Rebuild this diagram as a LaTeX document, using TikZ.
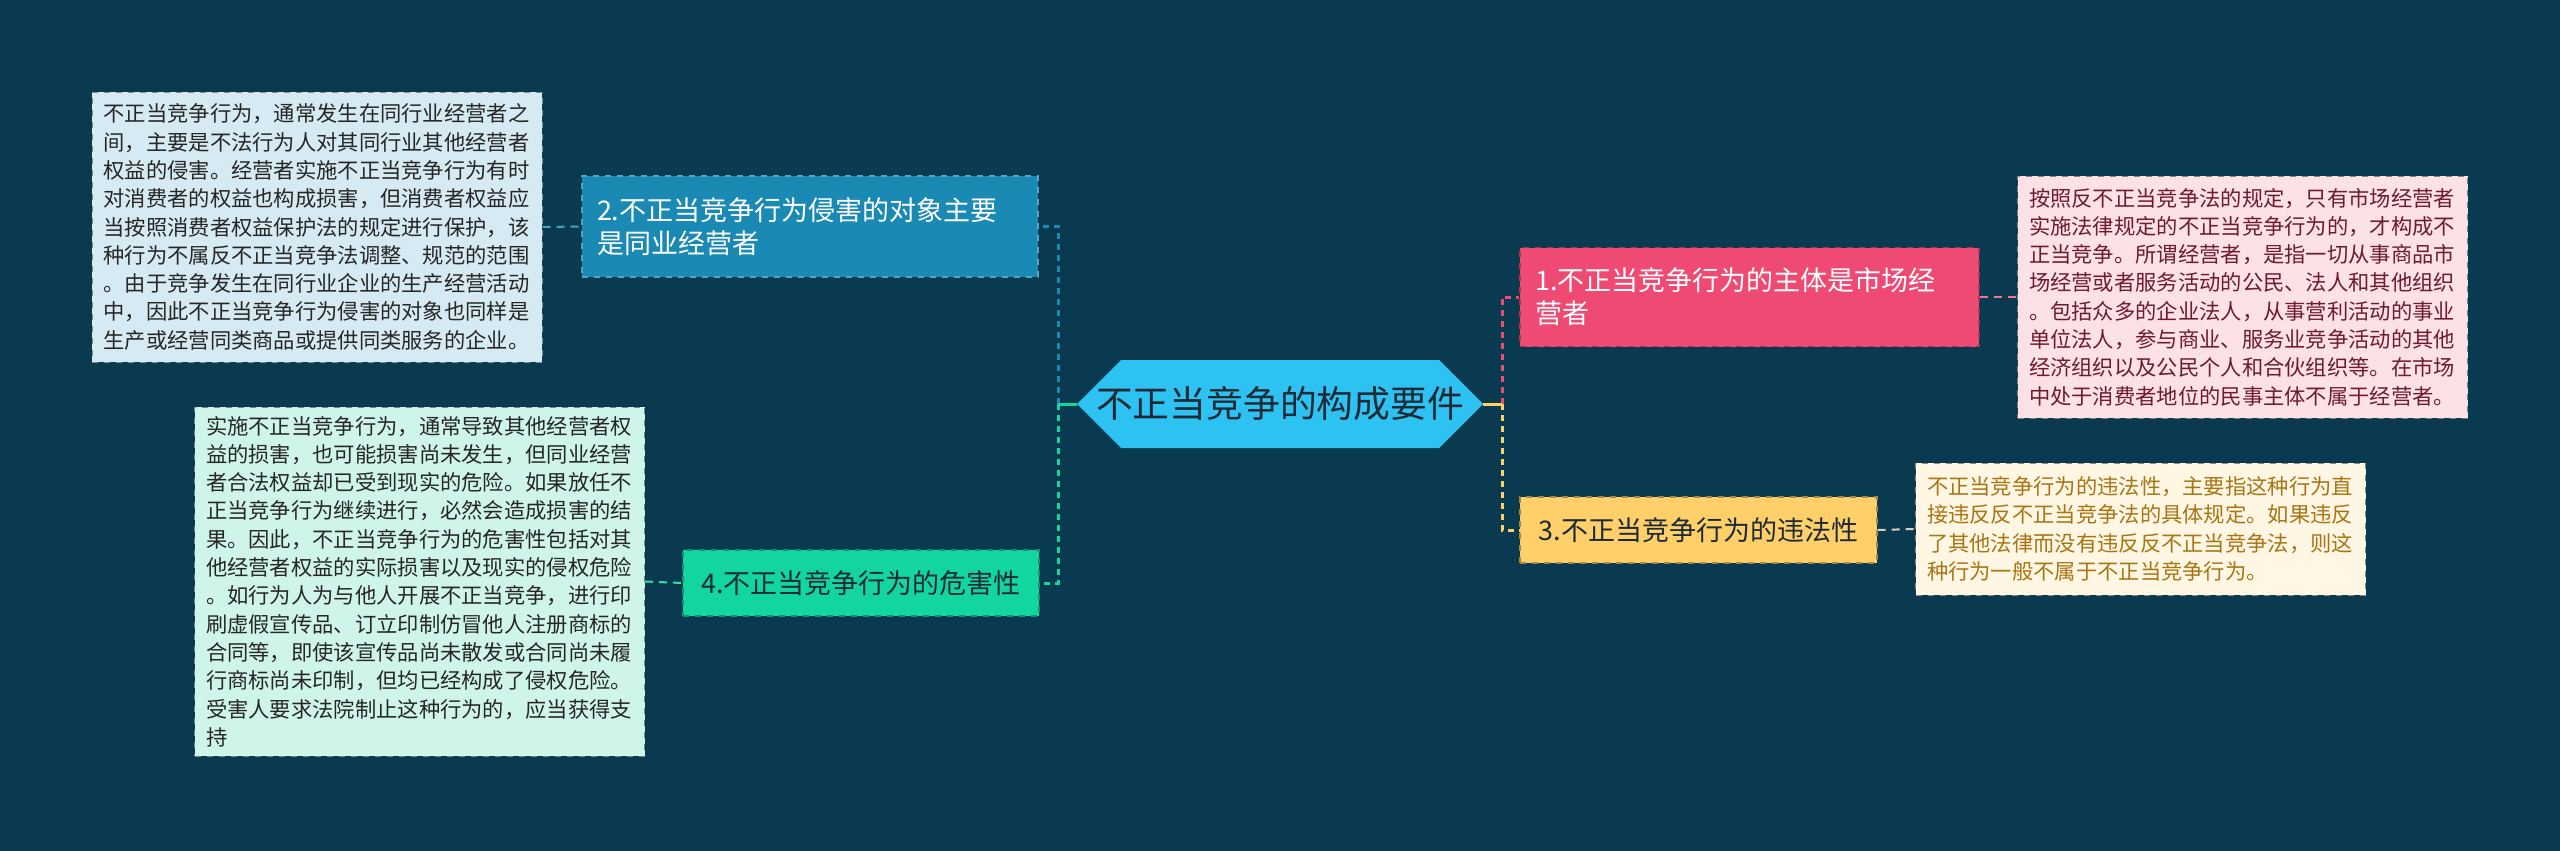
\documentclass[tikz,border=0pt]{standalone}
\usepackage{fontspec}
\setmainfont{Noto Sans CJK SC}
\usepackage{tikz}
\usetikzlibrary{shapes.misc,positioning}
\definecolor{mapfond}{HTML}{0A3A4F}
\definecolor{mapciel}{HTML}{2EC2F2}
\definecolor{mapencre}{HTML}{1E2A36}
\definecolor{mapbleu}{HTML}{1A89B3}
\definecolor{mapvert}{HTML}{12D5A0}
\definecolor{maprose}{HTML}{EE4A73}
\definecolor{mapjaune}{HTML}{FFD06A}
\definecolor{pbleu}{HTML}{D5EAF2}
\definecolor{pvert}{HTML}{CFF5EA}
\definecolor{prose}{HTML}{FCE1E6}
\definecolor{pjaune}{HTML}{FFF7E3}
\definecolor{tbrun}{HTML}{A87414}
\definecolor{tbordeaux}{HTML}{6E1A30}

\begin{document}
\begin{tikzpicture}[
    x=0.5pt,y=-0.5pt,
    racine/.style   = {chamfered rectangle, chamfered rectangle xsep=7.5pt,
                       chamfered rectangle ysep=22pt, fill=mapciel, text=mapencre,
                       font=\fontsize{18.4}{22}\selectfont,
                       minimum width=203pt, minimum height=44pt, inner sep=0pt},
    branche/.style  = {rectangle, dashed, line width=0.6pt,
                       font=\fontsize{13.5}{16.5}\selectfont,
                       inner xsep=7.5pt, inner ysep=3pt, align=left},
    feuille/.style  = {rectangle, dashed, line width=0.5pt,
                       font=\fontsize{10.65}{14.15}\selectfont,
                       text width=213.5pt, inner xsep=5.75pt, align=left},
    tige/.style     = {line width=1.5pt},
    pointille/.style= {tige, dash pattern=on 3pt off 2.5pt},
    fil/.style      = {line width=1pt, dash pattern=on 4pt off 3pt},
  ]

  % fond
  \fill[mapfond] (0,0) rectangle (2560,851);
  \useasboundingbox (0,0) rectangle (2560,851);

  % noeud central
  \node[racine] (racine) at (1280,404)
       {\raisebox{-0.38em}[0pt][0pt]{不正当竞争的构成要件}};

  % branches
  \node[branche, fill=mapbleu, draw=mapbleu!75!white, text=white,
        text width=213pt, minimum height=50.5pt] (victime) at (810,226.5)
       {2.不正当竞争行为侵害的对象主要\\是同业经营者};
  \node[branche, fill=mapvert, draw=mapvert!70!black, text=mapencre,
        minimum width=178pt, minimum height=33pt, align=center] (danger) at (861,583)
       {4.不正当竞争行为的危害性};
  \node[branche, fill=maprose, draw=maprose!70!black, text=white,
        text width=214.5pt, minimum height=49.5pt] (sujet) at (1749.5,297)
       {1.不正当竞争行为的主体是市场经\\营者};
  \node[branche, fill=mapjaune, draw=mapjaune!65!black, text=mapencre,
        minimum width=178.5pt, minimum height=33pt, align=center] (illicite) at (1698.5,530)
       {3.不正当竞争行为的违法性};

  % feuilles
  \node[feuille, fill=pbleu, draw=pbleu!60!black, text=black!85,
        minimum height=135pt] (fvictime) at (317,227)
       {不正当竞争行为，通常发生在同行业经营者之\\
        间，主要是不法行为人对其同行业其他经营者\\
        权益的侵害。经营者实施不正当竞争行为有时\\
        对消费者的权益也构成损害，但消费者权益应\\
        当按照消费者权益保护法的规定进行保护，该\\
        种行为不属反不正当竞争法调整、规范的范围\\
        。由于竞争发生在同行业企业的生产经营活动\\
        中，因此不正当竞争行为侵害的对象也同样是\\
        生产或经营同类商品或提供同类服务的企业。};
  \node[feuille, fill=pvert, draw=pvert!55!black, text=black!85,
        minimum height=174.5pt] (fdanger) at (419.5,581.5)
       {实施不正当竞争行为，通常导致其他经营者权\\
        益的损害，也可能损害尚未发生，但同业经营\\
        者合法权益却已受到现实的危险。如果放任不\\
        正当竞争行为继续进行，必然会造成损害的结\\
        果。因此，不正当竞争行为的危害性包括对其\\
        他经营者权益的实际损害以及现实的侵权危险\\
        。如行为人为与他人开展不正当竞争，进行印\\
        刷虚假宣传品、订立印制仿冒他人注册商标的\\
        合同等，即使该宣传品尚未散发或合同尚未履\\
        行商标尚未印制，但均已经构成了侵权危险。\\
        受害人要求法院制止这种行为的，应当获得支\\
        持};
  \node[feuille, fill=prose, draw=prose!55!black, text=tbordeaux,
        minimum height=121pt] (fsujet) at (2242.5,297)
       {按照反不正当竞争法的规定，只有市场经营者\\
        实施法律规定的不正当竞争行为的，才构成不\\
        正当竞争。所谓经营者，是指一切从事商品市\\
        场经营或者服务活动的公民、法人和其他组织\\
        。包括众多的企业法人，从事营利活动的事业\\
        单位法人，参与商业、服务业竞争活动的其他\\
        经济组织以及公民个人和合伙组织等。在市场\\
        中处于消费者地位的民事主体不属于经营者。};
  \node[feuille, fill=pjaune, draw=pjaune!55!black, text=tbrun,
        minimum height=66pt] (fillicite) at (2140.5,529)
       {不正当竞争行为的违法性，主要指这种行为直\\
        接违反反不正当竞争法的具体规定。如果违反\\
        了其他法律而没有违反反不正当竞争法，则这\\
        种行为一般不属于不正当竞争行为。};

  % liaisons
  \coordinate (jdroite) at (1502,404);
  \coordinate (jgauche) at (1058,404);
  \draw[pointille, maprose] (jdroite) |- (sujet.west);
  \draw[pointille, mapjaune] (jdroite) |- (illicite.west);
  \draw[tige, mapjaune] (racine.east) -- (jdroite);
  \draw[pointille, mapbleu] (jgauche) |- (victime.east);
  \draw[pointille, mapvert] (jgauche) |- (danger.east);
  \draw[tige, mapvert] (racine.west) -- (jgauche);

  \draw[fil, mapbleu!80!white] (fvictime.east) -- (victime.west);
  \draw[fil, mapvert!85!white] (fdanger.east) -- (danger.west);
  \draw[fil, maprose!75!white] (sujet.east) -- (fsujet.west);
  \draw[fil, pjaune!85!black] (illicite.east) -- (fillicite.west);

\end{tikzpicture}
\end{document}
